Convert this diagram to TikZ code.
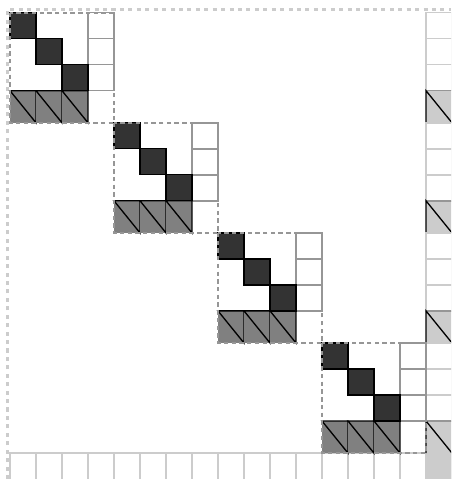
\documentclass[tikz,border=0pt]{standalone}
\usepackage{tikz}
\usetikzlibrary{calc}
\usepackage{xcolor}
\definecolor{dkcell}{RGB}{51,51,51}
\definecolor{grcell}{RGB}{128,128,128}
\definecolor{ltcell}{RGB}{204,204,204}
\definecolor{midline}{RGB}{150,150,150}
\definecolor{ltline}{RGB}{204,204,204}

\begin{document}
\begin{tikzpicture}[
  x=0.02cm, y=-0.02cm,
  DK/.style ={draw=black, fill=dkcell, line width=0.75pt},
  GR/.style ={fill=grcell},
  LC/.style ={fill=ltcell},
  TR/.style ={draw=black, line width=0.75pt},
  WC/.style ={draw=midline, line width=0.8pt},
  VC/.style ={draw=ltline, line width=0.8pt},
  BX/.style ={draw=midline, line width=1.2pt, dash pattern=on 2.5pt off 1.9pt},
  OL/.style ={draw=ltline, line width=1.2pt, dash pattern=on 2.3pt off 2.5pt}
]
  \useasboundingbox (0,0) rectangle (451,479);
  \clip (0,0) rectangle (451,479);

  \draw[OL] (7.5,479) -- (7.5,9.5) -- (451,9.5);

  % bottom row
  \foreach \c in {0,...,16}
    \draw[VC] ({10+26*\c},453) rectangle ++(26,30);
  \fill[LC] (426,453) rectangle ++(26,30);
  \draw[VC] (426,453) rectangle ++(26,30);

  \foreach \b in {0,...,3} {
    \pgfmathsetmacro{\X}{10+104*\b}
    \pgfmathsetmacro{\Y}{12.7+110.1*\b}
    % right-hand column
    \foreach \r in {0,1,2}
      \draw[VC] (426,{\Y+26*\r}) rectangle ++(26,26);
    \fill[LC] (426,{\Y+78}) rectangle ++(26,32.1);
    \draw[WC] (426,{\Y+78}) -- ++(26,0);
    \draw[TR] (426,{\Y+110.1}) -- (426,{\Y+78}) -- (452,{\Y+110.1});
    % block
    \foreach \r in {0,1,2}
      \draw[WC] ({\X+78},{\Y+26*\r}) rectangle ++(26,26);
    \foreach \c in {0,1,2} {
      \fill[GR] ({\X+26*\c},{\Y+78}) rectangle ++(26,32.1);
      \draw[TR] ({\X+26*\c},{\Y+78}) -- ++(26,0) -- ++(0,32.1) -- cycle;
    }
    \foreach \r in {0,1,2}
      \draw[DK] ({\X+26*\r},{\Y+26*\r}) rectangle ++(26,26);
    \draw[BX] (\X,\Y) rectangle ++(104,110.1);
  }
\end{tikzpicture}
\end{document}
